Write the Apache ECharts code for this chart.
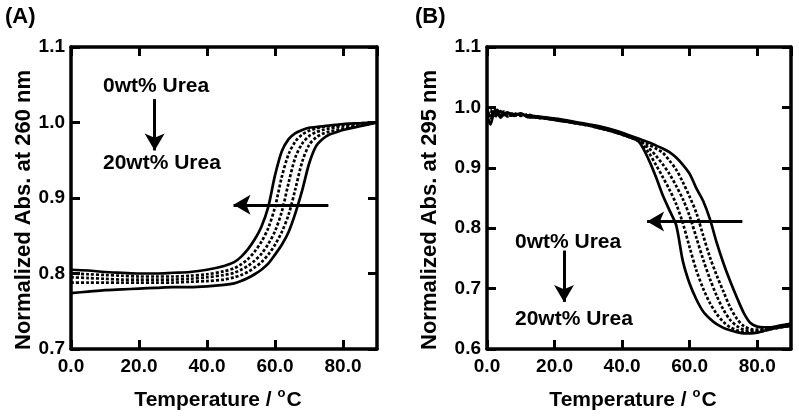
<!DOCTYPE html>
<html>
<head>
<meta charset="utf-8">
<script src="https://cdn.jsdelivr.net/npm/echarts@6/dist/echarts.min.js"></script>
<style>html,body{margin:0;padding:0;background:#fff}#c{width:799px;height:416px}</style>
</head>
<body>
<div id="c"></div>
<script>
// ---------- Data ----------
// Panel A: Normalized Abs. at 260 nm
const tempA = [0,5,10,15,20,25,30,35,40,45,48,50,52,54,56,58,60,62,64,66,68,70,72,74,76,78,80,85,90];
const absA_0  = [0.774,0.776,0.778,0.779,0.780,0.781,0.782,0.782,0.783,0.785,0.787,0.790,0.794,0.799,0.805,0.813,0.825,0.838,0.855,0.880,0.910,0.945,0.968,0.978,0.984,0.987,0.990,0.995,1.000];
const absA_5  = [0.788,0.788,0.788,0.788,0.788,0.788,0.788,0.789,0.790,0.792,0.795,0.798,0.802,0.808,0.815,0.825,0.838,0.855,0.878,0.912,0.948,0.970,0.980,0.985,0.988,0.990,0.992,0.996,1.000];
const absA_10 = [0.795,0.794,0.793,0.792,0.792,0.792,0.792,0.793,0.795,0.798,0.801,0.805,0.810,0.817,0.826,0.839,0.856,0.882,0.920,0.954,0.972,0.982,0.987,0.990,0.992,0.994,0.995,0.998,1.000];
const absA_15 = [0.800,0.799,0.798,0.797,0.796,0.796,0.796,0.797,0.799,0.803,0.807,0.812,0.819,0.829,0.842,0.860,0.888,0.928,0.958,0.975,0.984,0.989,0.992,0.994,0.995,0.996,0.997,0.999,1.000];
const absA_20 = [0.805,0.804,0.802,0.801,0.800,0.800,0.801,0.802,0.805,0.810,0.815,0.822,0.832,0.845,0.862,0.888,0.930,0.962,0.978,0.986,0.990,0.993,0.994,0.995,0.996,0.997,0.998,0.999,1.000];

// Panel B: Normalized Abs. at 295 nm
const tempB = [0,1,2,3,4,5,6,8,10,12,15,18,21,24,27,30,33,36,39,42,45,48,50,52,54,56,58,60,62,64,66,68,70,72,74,76,78,80,82,84,86,88,90];
const absB_0  = [0.995,0.985,0.993,0.988,0.994,0.987,0.990, 0.989,0.988,0.987, 0.985,0.983,0.981,0.978,0.975,0.972,0.969,0.965,0.960,0.954,0.948,0.942, 0.937,0.932,0.926,0.917,0.905,0.890,0.866,0.845,0.815,0.776,0.742,0.712,0.685,0.660,0.643,0.637,0.636,0.636,0.638,0.640,0.642];
const absB_5  = [0.990,0.996,0.986,0.992,0.984,0.991,0.988, 0.990,0.987,0.986, 0.984,0.982,0.980,0.977,0.974,0.971,0.968,0.964,0.959,0.953,0.946,0.938, 0.932,0.925,0.912,0.897,0.876,0.852,0.825,0.788,0.752,0.722,0.695,0.669,0.650,0.638,0.633,0.632,0.633,0.635,0.637,0.639,0.641];
const absB_10 = [0.998,0.982,0.992,0.995,0.986,0.990,0.985, 0.988,0.989,0.985, 0.984,0.982,0.979,0.977,0.974,0.971,0.967,0.963,0.958,0.952,0.945,0.932, 0.920,0.906,0.890,0.870,0.848,0.820,0.784,0.748,0.716,0.688,0.665,0.648,0.638,0.632,0.630,0.630,0.632,0.634,0.636,0.638,0.640];
const absB_15 = [0.992,0.989,0.997,0.984,0.991,0.993,0.986, 0.987,0.986,0.988, 0.983,0.981,0.979,0.976,0.973,0.970,0.966,0.962,0.957,0.951,0.944,0.924, 0.905,0.885,0.864,0.840,0.808,0.768,0.730,0.700,0.676,0.658,0.645,0.636,0.631,0.628,0.627,0.628,0.630,0.633,0.635,0.637,0.638];
const absB_20 = [0.988,0.972,0.990,0.996,0.983,0.989,0.992, 0.986,0.990,0.984, 0.983,0.981,0.978,0.976,0.973,0.970,0.966,0.962,0.957,0.951,0.943,0.912, 0.885,0.855,0.830,0.805,0.745,0.708,0.682,0.662,0.650,0.641,0.635,0.631,0.628,0.626,0.626,0.627,0.630,0.633,0.635,0.637,0.638];

const xTitle = 'Temperature / {sup|o}C';
const yTitleA = 'Normalized Abs. at 260 nm';
const yTitleB = 'Normalized Abs. at 295 nm';
const labelTop = '0wt% Urea';
const labelBottom = '20wt% Urea';

// ---------- Chart ----------
const FONT = 'Arial, "Liberation Sans", sans-serif';
const chart = echarts.init(document.getElementById('c'), null, {renderer: 'canvas'});
const pairs = (t, v) => t.map((x, i) => [x, v[i]]);
const fmt = v => v.toFixed(1);
const frameLine = () => ({show: true, onZero: false, lineStyle: {color: '#000', width: 3.5}});
const tick = () => ({show: true, inside: true, length: 9, lineStyle: {color: '#000', width: 3}});
const tickLabel = () => ({color: '#000', fontFamily: FONT, fontWeight: 'bold', fontSize: 19});

function xAxes(gi) {
  return [
    {type: 'value', gridIndex: gi, min: 0, max: 90, interval: 20, position: 'bottom',
     axisLine: frameLine(), axisTick: tick(),
     axisLabel: Object.assign({formatter: fmt, margin: 8, showMaxLabel: false}, tickLabel()),
     splitLine: {show: false},
     name: xTitle, nameLocation: 'middle', nameGap: 38,
     nameTextStyle: {color: '#000', fontFamily: FONT, fontWeight: 'bold', fontSize: 21, padding: [0, 12, 0, 0],
       rich: {sup: {fontSize: 13, fontWeight: 'bold', fontFamily: FONT, color: '#000', verticalAlign: 'top', padding: [0, 1, 14, 0]}}}},
    {type: 'value', gridIndex: gi, min: 0, max: 90, interval: 20, position: 'top',
     axisLine: frameLine(), axisTick: tick(), splitLine: {show: false}, axisLabel: {show: false}}
  ];
}
function yAxes(gi, min, name, gap) {
  return [
    {type: 'value', gridIndex: gi, min: min, max: 1.1, interval: 0.1, position: 'left',
     axisLine: frameLine(), axisTick: tick(), splitLine: {show: false},
     axisLabel: Object.assign({formatter: fmt, margin: 6}, tickLabel()),
     name: name, nameLocation: 'middle', nameGap: gap,
     nameTextStyle: {color: '#000', fontFamily: FONT, fontWeight: 'bold', fontSize: 22, padding: [0, 24, 0, 0]}},
    {type: 'value', gridIndex: gi, min: min, max: 1.1, interval: 0.1, position: 'right',
     axisLine: frameLine(), axisTick: tick(), splitLine: {show: false}, axisLabel: {show: false}}
  ];
}

const solid = {color: '#000', width: 2.7, type: 'solid'};
const dotted = {color: '#000', width: 2.7, type: [3, 2]};
function line(xi, yi, data, style, extra) {
  return Object.assign({type: 'line', xAxisIndex: xi, yAxisIndex: yi, data: data, showSymbol: false,
    smooth: 0.3, lineStyle: style, itemStyle: {color: '#000'}, silent: true, z: 3}, extra || {});
}
function arrows(h, v) {
  return {silent: true, symbol: ['none', 'arrow'], symbolSize: [15, 17], label: {show: false},
    lineStyle: {color: '#000', width: 3, type: 'solid'}, itemStyle: {color: '#000'},
    data: [
      [{coord: h[0]}, {coord: h[1]}],
      [{coord: v[0]}, {coord: v[1]}]
    ]};
}

const option = {
  animation: false,
  backgroundColor: '#fff',
  grid: [
    {left: 71, top: 47, width: 306, height: 306},
    {left: 487, top: 47, width: 304, height: 306}
  ],
  xAxis: [...xAxes(0), ...xAxes(1)],
  yAxis: [...yAxes(0, 0.7, yTitleA, 35), ...yAxes(1, 0.6, yTitleB, 46)],
  series: [
    line(0, 0, pairs(tempA, absA_0), solid, {markLine: arrows([[75.7, 0.891], [47.8, 0.891]], [[24.6, 1.031], [24.6, 0.963]])}),
    line(0, 0, pairs(tempA, absA_5), dotted),
    line(0, 0, pairs(tempA, absA_10), dotted),
    line(0, 0, pairs(tempA, absA_15), dotted),
    line(0, 0, pairs(tempA, absA_20), solid),
    line(2, 2, pairs(tempB, absB_0), solid, {markLine: arrows([[75.6, 0.811], [47.4, 0.811]], [[22.8, 0.763], [22.8, 0.678]])}),
    line(2, 2, pairs(tempB, absB_5), dotted),
    line(2, 2, pairs(tempB, absB_10), dotted),
    line(2, 2, pairs(tempB, absB_15), dotted),
    line(2, 2, pairs(tempB, absB_20), solid)
  ],
  graphic: [
    {type: 'text', left: 5, top: 6, style: {text: '(A)', font: 'bold 22px ' + FONT, fill: '#000'}},
    {type: 'text', left: 415, top: 6, style: {text: '(B)', font: 'bold 22px ' + FONT, fill: '#000'}},
    {type: 'text', left: 103, top: 76, style: {text: labelTop, font: 'bold 21px ' + FONT, fill: '#000'}},
    {type: 'text', left: 103, top: 153, style: {text: labelBottom, font: 'bold 21px ' + FONT, fill: '#000'}},
    {type: 'text', left: 515, top: 232, style: {text: labelTop, font: 'bold 21px ' + FONT, fill: '#000'}},
    {type: 'text', left: 515, top: 309, style: {text: labelBottom, font: 'bold 21px ' + FONT, fill: '#000'}}
  ]
};
chart.setOption(option);
</script>
</body>
</html>
